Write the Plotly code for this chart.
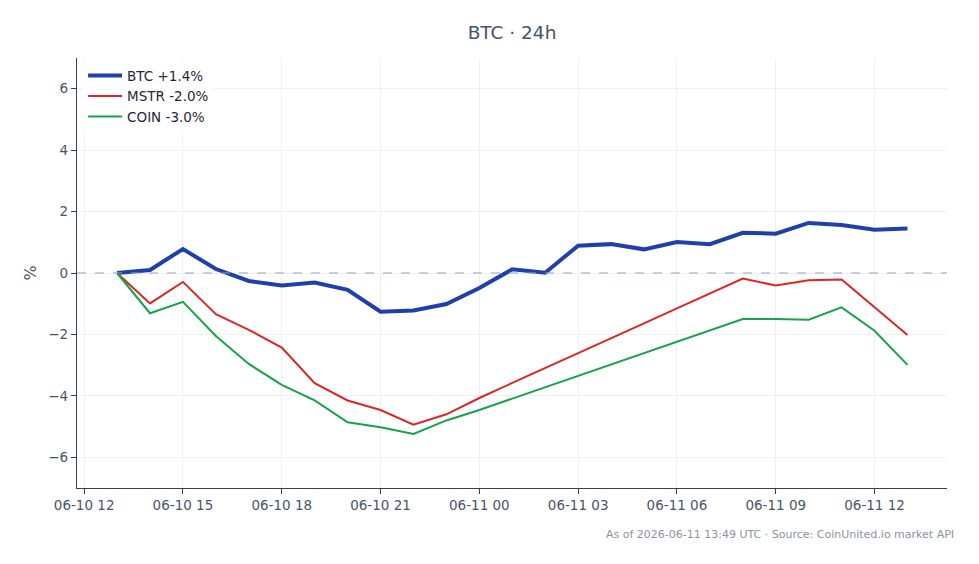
import plotly.graph_objects as go
import pandas as pd

times = pd.date_range("2026-06-10 13:00", "2026-06-11 13:00", freq="h")

btc = [0.0, 0.1, 0.78, 0.13, -0.26, -0.41, -0.31, -0.55, -1.26, -1.22, -1.01, -0.49,
       0.12, 0.01, 0.89, 0.94, 0.77, 1.01, 0.94, 1.31, 1.28, 1.63, 1.56, 1.41, 1.45]
mstr = [0.0, -0.99, -0.29, -1.34, -1.85, -2.43, -3.59, -4.15, -4.46, -4.94, -4.6, -4.07,
        -3.58, -3.10, -2.61, -2.13, -1.64, -1.15, -0.67, -0.18, -0.41, -0.24, -0.21, -1.1, -2.02]
coin = [0.0, -1.31, -0.94, -2.05, -2.96, -3.64, -4.15, -4.86, -5.02, -5.24, -4.8, -4.46,
        -4.09, -3.72, -3.35, -2.98, -2.61, -2.24, -1.87, -1.50, -1.50, -1.52, -1.12, -1.88, -2.99]

names = ["BTC +1.4%", "MSTR -2.0%", "COIN -3.0%"]
colors = ["#1e40af", "#dc2626", "#16a34a"]
widths = [4, 2, 2]

fig = go.Figure()
for name, vals, c, w in zip(names, [btc, mstr, coin], colors, widths):
    fig.add_trace(go.Scatter(x=times, y=vals, mode="lines", name=name,
                             line=dict(color=c, width=w)))

fig.add_hline(y=0, line=dict(color="#8fa3c0", width=1, dash="dash"))

fig.update_layout(
    width=979, height=564,
    margin=dict(l=77, r=32, t=58, b=76),
    paper_bgcolor="white", plot_bgcolor="white",
    font=dict(family="DejaVu Sans", size=13.5, color="#475569"),
    title=dict(text="BTC · 24h", x=0.5, xref="paper", y=0.943, yanchor="middle",
               font=dict(size=18.5, color="#475569")),
    legend=dict(x=0.007, y=0.995, xanchor="left", yanchor="top",
                bgcolor="rgba(255,255,255,0.8)", font=dict(size=13.5, color="#1f2937"),
                tracegroupgap=0, itemwidth=34),
    xaxis=dict(type="date", range=["2026-06-10 11:47", "2026-06-11 14:12"],
               tickformat="%m-%d %H", dtick=3 * 3600 * 1000, tick0="2026-06-10 12:00",
               showline=True, linecolor="#334155", linewidth=1.2,
               ticks="outside", ticklen=5, tickcolor="#334155",
               showgrid=True, gridcolor="#eef0f4", zeroline=False),
    yaxis=dict(range=[-7, 7], dtick=2, title=dict(text="%", standoff=7),
               showline=True, linecolor="#334155", linewidth=1.2,
               ticks="outside", ticklen=5, tickcolor="#334155",
               showgrid=True, gridcolor="#eef0f4", zeroline=False),
    annotations=[dict(text="As of 2026-06-11 13:49 UTC · Source: CoinUnited.io market API",
                      xref="paper", yref="paper", x=1.01, y=-0.107,
                      xanchor="right", yanchor="middle", showarrow=False,
                      font=dict(size=11, color="#8a94a3"))],
)

fig.write_html("out.html")
